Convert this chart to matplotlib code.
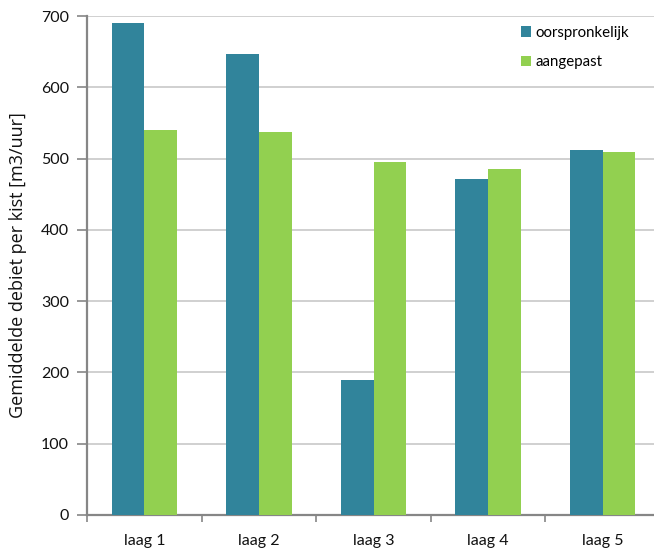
import matplotlib
matplotlib.use("Agg")
import matplotlib.pyplot as plt
from matplotlib.patches import Patch
import numpy as np

categories = ["laag 1", "laag 2", "laag 3", "laag 4", "laag 5"]
oorspronkelijk = [690, 646, 189, 472, 512]
aangepast = [540, 537, 495, 486, 509]
series_names = ["oorspronkelijk", "aangepast"]
y_ticks = [0, 100, 200, 300, 400, 500, 600, 700]

BLUE = "#31849B"
GREEN = "#92D050"
AXIS = "#868686"
GRID = "#C8C8C8"
TXT = "#111111"

plt.rcParams['font.family'] = ['Lato', 'DejaVu Sans']

fig = plt.figure(figsize=(6.54, 5.5), dpi=100)
W, H = 654, 550
ax = fig.add_axes([87 / W, (H - 515) / H, 573 / W, (515 - 16) / H])

n = len(categories)
centers = np.arange(n) + 0.5
bw = 1 / 3.5
ax.bar(centers - bw / 2, oorspronkelijk, width=bw, color=BLUE, zorder=3)
ax.bar(centers + bw / 2, aangepast, width=bw, color=GREEN, zorder=3)

ax.set_xlim(0, n)
ax.set_ylim(0, 700)
ax.set_yticks(y_ticks)
ax.set_yticklabels([str(t) for t in y_ticks], fontsize=11.5, color=TXT)
ax.yaxis.grid(True, color=GRID, linewidth=1.2, zorder=0)
ax.set_axisbelow(True)

ax.set_xticks(np.arange(n + 1))
ax.set_xticklabels([""] * (n + 1))
ax.set_xticks(centers, minor=True)
ax.set_xticklabels(categories, minor=True, fontsize=11.5, color=TXT)
ax.tick_params(axis="x", which="minor", length=0, pad=14)
ax.tick_params(axis="x", which="major", length=5, color=AXIS, width=1.2)
ax.tick_params(axis="y", length=7, color=AXIS, width=1.2, pad=6)

for s in ["top", "right"]:
    ax.spines[s].set_visible(False)
for s in ["left", "bottom"]:
    ax.spines[s].set_color(AXIS)
    ax.spines[s].set_linewidth(1.6)

fig.text(18.5 / W, 1 - 265 / H, "Gemiddelde debiet per kist [m3/uur]",
         rotation=90, ha="center", va="center", fontsize=13, color=TXT,
         family=["Open Sans", "DejaVu Sans"])

handles = [Patch(facecolor=BLUE), Patch(facecolor=GREEN)]
leg = fig.legend(handles, series_names, loc="upper left",
                 bbox_to_anchor=(507 / W, 1 - 12 / H), frameon=False,
                 fontsize=10.8, handlelength=0.72, handleheight=0.72,
                 handletextpad=0.3, labelspacing=1.05)

fig.savefig("out.png", dpi=100)
